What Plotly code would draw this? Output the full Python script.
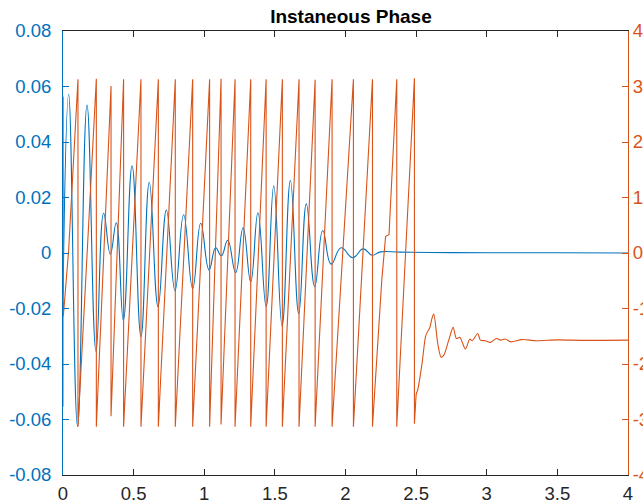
import plotly.graph_objects as go

# ---- data ----
# Signal (left axis): extrema / key points
sig_t = [0.0, 0.040, 0.103, 0.170, 0.234, 0.288, 0.335, 0.377, 0.427, 0.489, 0.552,
         0.611, 0.673, 0.732, 0.793, 0.854, 0.918, 0.975, 1.034, 1.081, 1.121,
         1.166, 1.222, 1.275, 1.329, 1.380, 1.438, 1.492, 1.551, 1.610, 1.669,
         1.723, 1.782, 1.839, 1.898, 1.969, 2.051, 2.125, 2.188, 2.247, 2.389,
         2.6, 3.0, 3.5, 4.0]
sig_v = [-0.015, 0.0572, -0.0625, 0.0533, -0.0355, 0.0143, -0.0004, 0.0109, -0.0243,
         0.0314, -0.0301, 0.0255, -0.0193, 0.0155, -0.0136, 0.0138, -0.0128, 0.0107,
         -0.0061, 0.0019, -0.0010, 0.0046, -0.0071, 0.0091, -0.0104, 0.0145, -0.0193,
         0.0242, -0.0262, 0.0261, -0.0219, 0.0177, -0.0121, 0.0081, -0.0040, 0.0019,
         -0.0017, 0.0015, -0.0008, 0.0004, 0.0003, 0.0002, 0.0001, 0.0001, 0.0]

# Instantaneous phase (right axis): wrap instants with value before / after wrap
wrap_t = [0.106, 0.236, 0.340, 0.429, 0.552, 0.675, 0.795, 0.918, 1.038, 1.119, 1.218,
          1.329, 1.438, 1.553, 1.671, 1.785, 1.905, 2.056, 2.191, 2.363, 2.488]
wrap_top = [3.13, 3.14, 3.01, 3.13, 3.13, 3.13, 3.13, 3.13, 3.13, 3.14, 3.13,
            3.13, 3.13, 3.13, 3.13, 3.12, 3.13, 3.13, 3.13, 3.13, 3.15]
wrap_bottom = [-3.13, -3.13, -2.94, -3.13, -3.13, -3.13, -3.13, -3.13, -3.13, -3.09, -3.13,
               -3.13, -3.13, -3.13, -3.13, -3.13, -3.13, -3.13, -3.13, -3.13, -3.07]
# start of phase trace
start_t = [0.0, 0.001, 0.002, 0.040]
start_v = [-2.77, 2.82, -1.15, 0.05]
# kink in ramp before 2.363
kink_t = [2.257, 2.284, 2.308]
kink_v = [-0.48, 0.30, 0.33]
# settling tail after the last wrap at 2.488
tail_t = [2.495, 2.502, 2.511, 2.542, 2.566, 2.578, 2.596, 2.613, 2.625, 2.653, 2.677,
          2.696, 2.731, 2.762, 2.785, 2.809, 2.849, 2.880, 2.897, 2.936, 2.955, 2.991,
          3.026, 3.069, 3.097, 3.132, 3.168, 3.25, 3.35, 3.5, 3.7, 4.0]
tail_v = [-2.77, -2.53, -2.47, -1.99, -1.51, -1.43, -1.35, -1.17, -1.10, -1.63, -1.88,
          -1.84, -1.57, -1.34, -1.54, -1.52, -1.73, -1.55, -1.58, -1.45, -1.57, -1.58,
          -1.61, -1.54, -1.57, -1.55, -1.60, -1.56, -1.58, -1.565, -1.575, -1.57]

x_ticks = [0, 0.5, 1, 1.5, 2, 2.5, 3, 3.5, 4]
x_labels = ["0", "0.5", "1", "1.5", "2", "2.5", "3", "3.5", "4"]
yl_ticks = [-0.08, -0.06, -0.04, -0.02, 0, 0.02, 0.04, 0.06, 0.08]
yl_labels = ["-0.08", "-0.06", "-0.04", "-0.02", "0", "0.02", "0.04", "0.06", "0.08"]
yr_ticks = [-4, -3, -2, -1, 0, 1, 2, 3, 4]
yr_labels = ["-4", "-3", "-2", "-1", "0", "1", "2", "3", "4"]

title_text = "Instaneous Phase"

# ---- assemble phase trace (wrapping part) ----
pts = list(zip(start_t, start_v))
for t, a, b in zip(wrap_t, wrap_top, wrap_bottom):
    pts.append((t, a))
    pts.append((t, b))
pts += list(zip(kink_t, kink_v))
pts = sorted(pts, key=lambda p: p[0])  # stable: keeps top-before-bottom at wraps
ph_t = [p[0] for p in pts]
ph_v = [p[1] for p in pts]
# tail continues from the last wrap's bottom value
tl_t = [wrap_t[-1]] + tail_t
tl_v = [wrap_bottom[-1]] + tail_v

BLUE = "#0072BD"
ORANGE = "#D95319"
DARK = "#262626"
FONT = "Liberation Sans, Arial, Helvetica, sans-serif"
FS = 18.5

fig = go.Figure()
fig.add_trace(go.Scatter(x=sig_t, y=sig_v, mode="lines",
                         line=dict(color=BLUE, width=1.1, shape="spline", smoothing=1.3),
                         yaxis="y", showlegend=False))
fig.add_trace(go.Scatter(x=ph_t, y=ph_v, mode="lines",
                         line=dict(color=ORANGE, width=1.1),
                         yaxis="y2", showlegend=False))
fig.add_trace(go.Scatter(x=tl_t, y=tl_v, mode="lines",
                         line=dict(color=ORANGE, width=1.1, shape="spline", smoothing=0.8),
                         yaxis="y2", showlegend=False))

fig.update_layout(
    width=643, height=503,
    template="none",
    paper_bgcolor="white", plot_bgcolor="white",
    margin=dict(l=63, r=15, t=31, b=28, pad=0),
    font=dict(family=FONT, size=FS, color=DARK),
    title=dict(text="<b>" + title_text + "</b>", x=327.7 / 643, xanchor="center",
               xref="paper", y=1 - 16 / 503, yref="container", yanchor="middle",
               font=dict(family=FONT, size=19, color="black")),
    xaxis=dict(range=[0, 4], tickvals=x_ticks, ticktext=x_labels,
               ticks="inside", ticklen=6, tickcolor=DARK, tickwidth=1,
               showline=True, linecolor=DARK, linewidth=1, mirror="ticks",
               showgrid=False, zeroline=False, automargin=False,
               ticklabelstandoff=2,
               tickfont=dict(size=FS, color=DARK)),
    yaxis=dict(range=[-0.08, 0.08], tickvals=yl_ticks, ticktext=yl_labels,
               ticks="inside", ticklen=6, tickcolor=BLUE, tickwidth=1,
               showline=True, linecolor=BLUE, linewidth=1,
               showgrid=False, zeroline=False, automargin=False,
               ticklabelstandoff=7,
               tickfont=dict(size=FS, color=BLUE)),
    yaxis2=dict(range=[-4, 4], tickvals=yr_ticks, ticktext=yr_labels,
                overlaying="y", side="right",
                ticks="inside", ticklen=6, tickcolor=ORANGE, tickwidth=1,
                showline=True, linecolor=ORANGE, linewidth=1,
                showgrid=False, zeroline=False, automargin=False,
                tickfont=dict(size=FS, color=ORANGE)),
)

fig.write_html("out.html")
